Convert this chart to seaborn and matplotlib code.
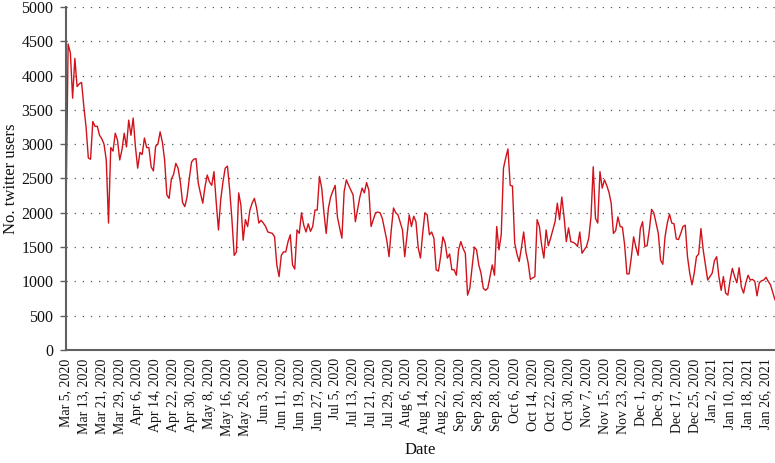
import numpy as np
import pandas as pd
import seaborn as sns
import matplotlib.pyplot as plt

# ----------------------
# Data (daily counts)
# ----------------------
users_mar_may = [
    1870, 4460, 4330, 3670, 4250, 3840, 3880, 3900, 3550, 3250,
    2800, 2780, 3330, 3260, 3260, 3130, 3080, 3000, 2770, 1850,
    2950, 2900, 3160, 3060, 2770, 2920, 3160, 2960, 3350, 3130,
    3380, 2960, 2650, 2880, 2850, 3090, 2950, 2950, 2670, 2610,
    2970, 3000, 3180, 3030, 2770, 2260, 2210, 2490, 2560, 2720,
    2650, 2450, 2150, 2090, 2230, 2500, 2740, 2780, 2790, 2430,
    2280, 2140, 2380, 2550, 2450, 2400, 2600, 2150, 1750, 2190,
    2450, 2650, 2680, 2330, 1900, 1380, 1430, 2290, 2110, 1600,
]
users_jun_aug = [
    1900, 1800, 2040, 2140, 2210, 2070, 1850, 1890, 1850, 1800,
    1720, 1710, 1700, 1650, 1240, 1070, 1380, 1430, 1430, 1580,
    1680, 1240, 1180, 1750, 1700, 2000, 1820, 1720, 1840, 1730,
    1800, 2040, 2040, 2530, 2360, 2000, 1700, 2070, 2230, 2320,
    2400, 1940, 1780, 1630, 2310, 2480, 2400, 2330, 2260, 1870,
    2050, 2230, 2360, 2290, 2440, 2330, 1800, 1900, 2000, 2010,
    2000, 1920, 1760, 1600, 1360, 1750, 2070, 2000, 1970, 1860,
    1750, 1360, 1660, 1970, 1800, 1950, 1870, 1490, 1340, 1700,
]
users_aug_nov = [
    2000, 1970, 1680, 1720, 1630, 1170, 1150, 1360, 1650, 1560,
    1340, 1400, 1170, 1170, 1090, 1460, 1580, 1480, 1410, 800,
    900, 1200, 1500, 1460, 1240, 1120, 900, 870, 900, 1070,
    1240, 1090, 1800, 1460, 1680, 2650, 2800, 2930, 2400, 2390,
    1560, 1400, 1290, 1490, 1720, 1430, 1270, 1030, 1050, 1070,
    1900, 1800, 1530, 1340, 1750, 1520, 1630, 1750, 1870, 2140,
    1900, 2230, 1940, 1580, 1780, 1580, 1570, 1550, 1510, 1720,
    1410, 1460, 1510, 1630, 1940, 2670, 1920, 1850, 2600, 2360,
]
users_nov_jan = [
    2480, 2400, 2300, 2140, 1700, 1740, 1940, 1800, 1790, 1530,
    1110, 1110, 1360, 1650, 1500, 1380, 1770, 1870, 1510, 1520,
    1750, 2050, 2000, 1850, 1700, 1310, 1250, 1650, 1850, 1980,
    1850, 1840, 1620, 1610, 1700, 1800, 1820, 1360, 1120, 950,
    1120, 1360, 1400, 1770, 1460, 1240, 1020, 1070, 1120, 1300,
    1360, 1070, 870, 1070, 830, 800, 1020, 1190, 1070, 980,
    1200, 920, 830, 980, 1090, 1020, 1030, 1000, 790, 980,
    1010, 1020, 1060, 1000, 950, 840, 730,
]

tick_labels = [
    "Mar 5, 2020", "Mar 13, 2020", "Mar 21, 2020", "Mar 29, 2020",
    "Apr 6, 2020", "Apr 14, 2020", "Apr 22, 2020", "Apr 30, 2020",
    "May 8, 2020", "May 16, 2020", "May 26, 2020", "Jun 3, 2020",
    "Jun 11, 2020", "Jun 19, 2020", "Jun 27, 2020", "Jul 5, 2020",
    "Jul 13, 2020", "Jul 21, 2020", "Jul 29, 2020", "Aug 6, 2020",
    "Aug 14, 2020", "Aug 22, 2020", "Sep 20, 2020", "Sep 28, 2020",
    "Sep 28, 2020", "Oct 6, 2020", "Oct 14, 2020", "Oct 22, 2020",
    "Oct 30, 2020", "Nov 7, 2020", "Nov 15, 2020", "Nov 23, 2020",
    "Dec 1, 2020", "Dec 9, 2020", "Dec 17, 2020", "Dec 25, 2020",
    "Jan 2, 2021", "Jan 10, 2021", "Jan 18, 2021", "Jan 26, 2021",
]

users = users_mar_may + users_jun_aug + users_aug_nov + users_nov_jan
df = pd.DataFrame({"day": np.arange(len(users)), "users": users})

# ----------------------
# Plot
# ----------------------
sns.set_theme(style="white")
plt.rcParams["font.family"] = ["Liberation Serif", "DejaVu Serif"]

fig, ax = plt.subplots(figsize=(7.75, 4.63), dpi=100)
fig.subplots_adjust(left=0.085, right=1.0, top=0.985, bottom=0.244)

sns.lineplot(data=df, x="day", y="users", color="#d0121b", linewidth=1.0, ax=ax)

ax.set_xlim(0, len(users) - 1)
ax.set_ylim(0, 5000)
ax.set_yticks(np.arange(0, 5001, 500))
ax.set_xticks(np.arange(0, len(users), 8))
ax.set_xticklabels(tick_labels, rotation=90)

ax.set_axisbelow(True)
ax.yaxis.grid(True, linestyle=(0, (1, 5.5)), color="#555555", linewidth=0.9)
ax.xaxis.grid(False)

for side in ["top", "right"]:
    ax.spines[side].set_visible(False)
for side in ["left", "bottom"]:
    ax.spines[side].set_color("#606060")
    ax.spines[side].set_linewidth(1.5)

ax.tick_params(axis="y", left=True, length=4, width=1, color="#606060",
               labelsize=11.5, pad=5, labelcolor="#111111")
ax.tick_params(axis="x", bottom=False, length=0, labelsize=10, pad=6,
               labelcolor="#111111")

ax.set_xlabel("Date", fontsize=12, labelpad=4, color="#111111")
ax.set_ylabel("No. twitter users", fontsize=12, labelpad=2, color="#111111")

plt.savefig("out.png", dpi=100)
plt.close()
